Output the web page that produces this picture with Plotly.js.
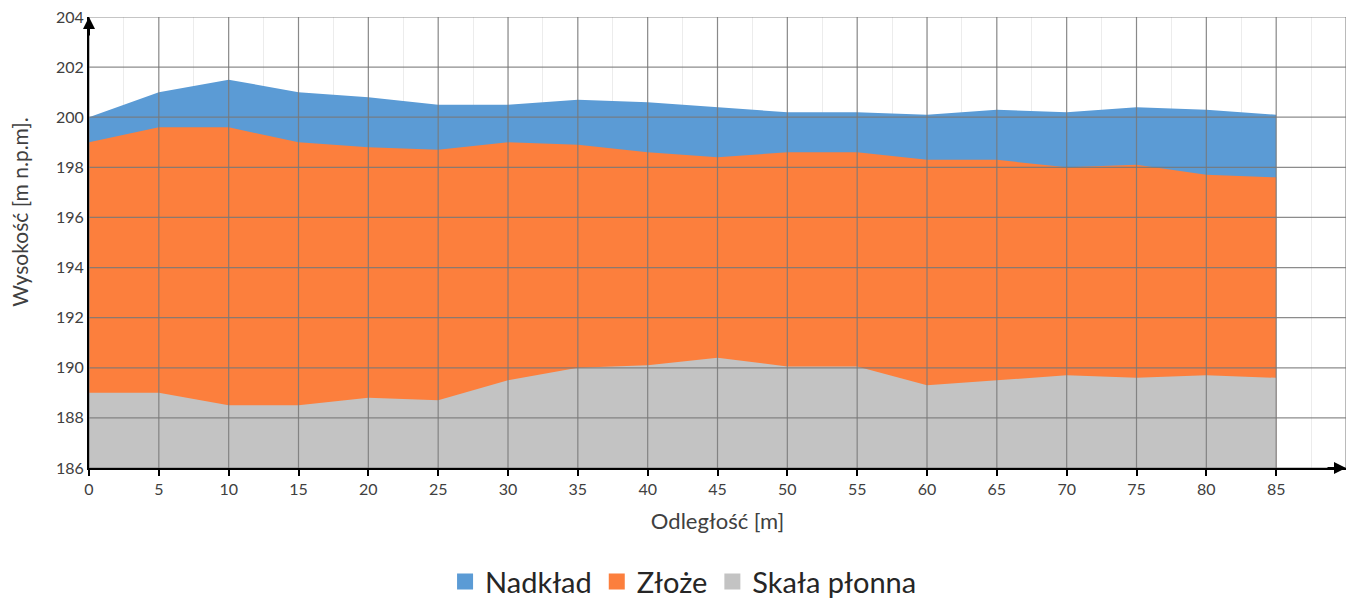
<!DOCTYPE html>
<html>
<head>
<meta charset="utf-8">
<script src="https://cdn.plot.ly/plotly-3.0.1.min.js"></script>
<style>html,body{margin:0;padding:0;background:#fff}#chart{width:1354px;height:601px}</style>
</head>
<body>
<div id="chart"></div>
<script>
const distance = [0,5,10,15,20,25,30,35,40,45,50,55,60,65,70,75,80,85];
const nadklad = [200.0,201.0,201.5,201.0,200.8,200.5,200.5,200.7,200.6,200.4,200.2,200.2,200.1,200.3,200.2,200.4,200.3,200.1];
const zloze = [199.0,199.6,199.6,199.0,198.8,198.7,199.0,198.9,198.6,198.4,198.6,198.6,198.3,198.3,198.0,198.1,197.7,197.6];
const skala = [189.0,189.0,188.5,188.5,188.8,188.7,189.5,190.0,190.1,190.4,190.05,190.05,189.3,189.5,189.7,189.6,189.7,189.6];
const seriesNames = ['Nadkład','Złoże','Skała płonna'];
const xTicks = [0,5,10,15,20,25,30,35,40,45,50,55,60,65,70,75,80,85];
const yTicks = [186,188,190,192,194,196,198,200,202,204];
const xMax = 90;
const xTitle = 'Odległość [m]';
const yTitle = 'Wysokość [m n.p.m].';

const colors = ['#5B9BD5','#FC7F3D','#C3C3C3'];
const data = [nadklad, zloze, skala].map((ys, i) => ({
  type: 'scatter', mode: 'lines', x: distance, y: ys, name: seriesNames[i],
  fill: 'tozeroy', fillcolor: colors[i], line: {width: 0, color: colors[i]},
  showlegend: false, legendgroup: 'g' + i
}));
// legend entries with square swatches
seriesNames.forEach((n, i) => data.push({
  type: 'scatter', mode: 'markers', x: [null], y: [null], name: n, legendgroup: 'g' + i,
  marker: {symbol: 'square', size: 17, color: colors[i]}, showlegend: true
}));

const gridX = xTicks.concat([xMax]);
const shapes = [];
gridX.forEach(v => shapes.push({type:'line', xref:'x', yref:'paper', x0:v, x1:v, y0:0, y1:1, layer:'above', line:{color:'rgba(120,120,120,0.85)', width:1.2}}));
yTicks.forEach(v => shapes.push({type:'line', xref:'paper', yref:'y', x0:0, x1:1, y0:v, y1:v, layer:'above', line:{color:'rgba(120,120,120,0.85)', width:1.2}}));

const font = {family: 'Lato, "Open Sans", sans-serif', color: '#404040'};
const layout = {
  width: 1354, height: 601,
  margin: {l: 89, r: 8, t: 17, b: 133},
  paper_bgcolor: '#fff', plot_bgcolor: '#fff',
  font: font,
  showlegend: true,
  legend: {orientation: 'h', x: 0.473, xanchor: 'center', yref: 'container', y: 0.032, yanchor: 'middle',
           font: {family: font.family, size: 29, color: '#262626'}, itemwidth: 30, tracegroupgap: 0},
  xaxis: {
    range: [0, xMax], tickvals: xTicks, ticktext: xTicks.map(String),
    ticks: 'outside', ticklen: 6, tickwidth: 2, tickcolor: '#000',
    showline: true, linecolor: '#000', linewidth: 2,
    showgrid: false, zeroline: false, automargin: false,
    minor: {dtick: 2.5, tick0: 2.5, showgrid: true, gridcolor: '#ECECEC', gridwidth: 1, ticks: ''},
    tickfont: {family: font.family, size: 16, color: '#404040'},
    title: {text: xTitle, font: {family: font.family, size: 22, color: '#404040'}, standoff: 16},
    fixedrange: true
  },
  yaxis: {
    range: [186, 204], tickvals: yTicks, ticktext: yTicks.map(String),
    ticks: '', showline: true, linecolor: '#000', linewidth: 2,
    showgrid: false, zeroline: false, automargin: false,
    tickfont: {family: font.family, size: 16, color: '#404040'},
    fixedrange: true
  },
  shapes: shapes,
  annotations: [
    {xref:'paper', yref:'paper', x:-0.0549, y:0.568, xanchor:'center', yanchor:'middle', textangle:-90, showarrow:false,
     text: yTitle, font: {family: font.family, size: 21, color: '#404040'}},
    {xref:'paper', yref:'paper', x:1, y:0, ax:-20, ay:0, axref:'pixel', ayref:'pixel', text:'', showarrow:true, arrowhead:2, arrowsize:1.2, arrowwidth:2, arrowcolor:'#000'},
    {xref:'paper', yref:'paper', x:0, y:1, ax:0, ay:20, axref:'pixel', ayref:'pixel', text:'', showarrow:true, arrowhead:2, arrowsize:1.2, arrowwidth:2, arrowcolor:'#000'}
  ]
};
Plotly.newPlot('chart', data, layout, {displayModeBar: false, staticPlot: true});
</script>
</body>
</html>
